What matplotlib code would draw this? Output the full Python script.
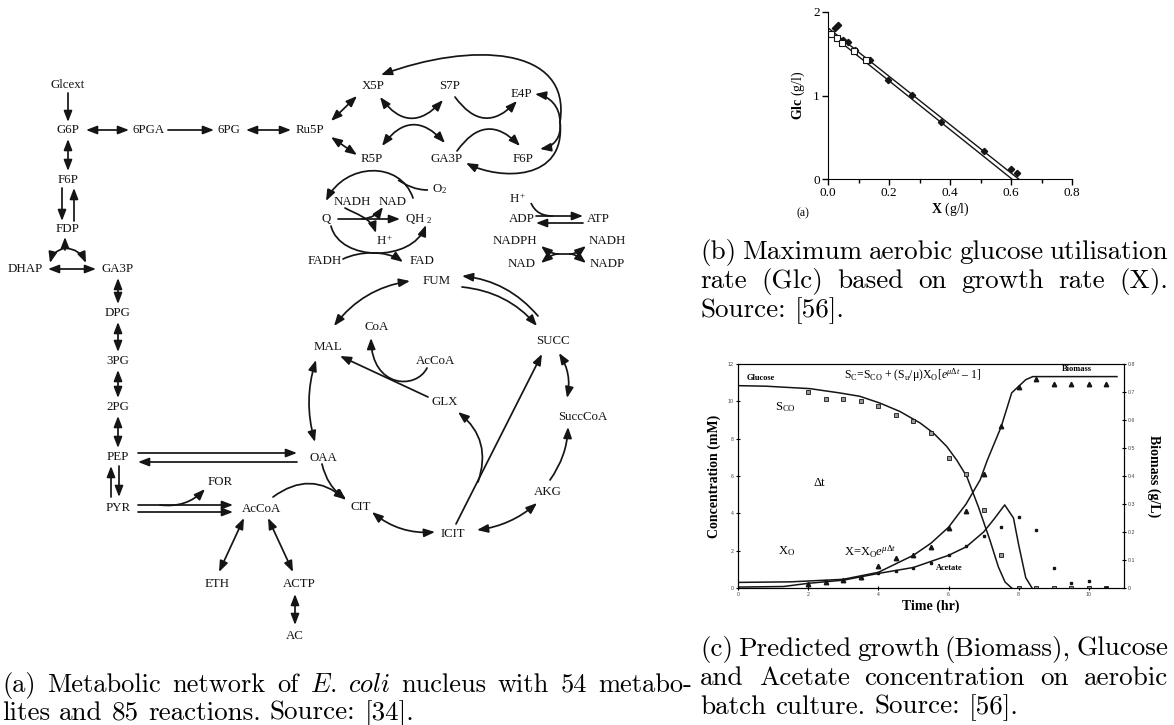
import numpy as np
import matplotlib.pyplot as plt
from matplotlib.patches import FancyArrowPatch, PathPatch
from matplotlib.path import Path

plt.rcParams['font.family'] = 'Liberation Serif'
plt.rcParams['mathtext.fontset'] = 'custom'
plt.rcParams['mathtext.rm'] = 'Liberation Serif'
plt.rcParams['mathtext.it'] = 'Liberation Serif:italic'
plt.rcParams['mathtext.bf'] = 'Liberation Serif:bold'

INK = '#151515'

# ---------- (a) metabolic network: metabolites and their label positions (px)
node_names = ["Glcext", "G6P", "6PGA", "6PG", "Ru5P", "F6P", "FDP", "DHAP", "GA3P",
              "DPG", "3PG", "2PG", "PEP", "PYR", "FOR", "AcCoA", "ETH", "ACTP", "AC",
              "OAA", "MAL", "CoA", "AcCoA", "GLX", "SUCC", "SuccCoA", "CIT", "ICIT",
              "AKG", "FUM", "X5P", "S7P", "E4P", "R5P", "GA3P", "F6P", r"O$_2$",
              "NADH", "NAD", "Q", r"QH $_2$", r"H$^+$", "FADH", "FAD", r"H$^+$",
              "ADP", "ATP", "NADPH", "NADH", "NAD", "NADP"]
node_x = [68, 68, 149, 229, 310, 68, 68, 25, 118, 118, 118, 118, 118, 118, 220, 262,
          217, 299, 295, 323, 328, 377, 435, 445, 553, 583, 361, 453, 548, 437, 373,
          450, 521, 372, 447, 523, 440, 352, 393, 326, 419, 385, 325, 422, 518, 522,
          598, 515, 607, 522, 607]
node_y = [85, 130, 130, 130, 130, 180, 229, 269, 269, 313, 361, 407, 457, 508, 482,
          509, 584, 584, 636, 458, 347, 327, 361, 402, 341, 417, 507, 534, 492, 281,
          86, 86, 94, 159, 159, 159, 189, 202, 202, 219, 219, 241, 261, 261, 199, 219,
          219, 241, 241, 264, 264]

# straight / arc reactions: start, end, heads, bend
rx0 = [68, 86, 168, 246, 68, 62, 74, 65, 65, 65, 48, 118, 118, 118, 118, 138, 297,
       119, 111, 138, 138, 160, 244, 268, 295, 273, 322, 316, 410, 538, 462, 559, 550,
       477, 372, 456, 478, 428, 331, 331, 380, 382, 455, 457, 338, 536, 583]
ry0 = [93, 130, 130, 130, 139, 188, 221, 250, 248, 248, 269, 278, 322, 370, 416, 453,
       462, 466, 497, 505, 512, 505, 518, 518, 594, 497, 464, 360, 281, 316, 287, 353,
       480, 530, 512, 524, 482, 397, 121, 137, 97, 146, 97, 151, 219, 216, 223]
rx1 = [68, 129, 214, 291, 68, 62, 74, 65, 50, 86, 96, 118, 118, 118, 118, 297, 138,
       119, 111, 233, 233, 205, 219, 293, 295, 346, 346, 315, 334, 462, 537, 567, 568,
       537, 435, 542, 458, 340, 357, 357, 443, 445, 517, 520, 400, 583, 536]
ry1 = [122, 130, 130, 130, 171, 221, 188, 237, 263, 263, 269, 304, 352, 398, 448, 453,
       462, 497, 466, 505, 512, 489, 572, 572, 625, 500, 499, 442, 326, 276, 326, 398,
       427, 503, 532, 354, 412, 356, 96, 155, 100, 143, 101, 146, 219, 216, 223]
r_heads = ['->', '<->', '->', '<->', '<->', '->', '->', '->', '->', '->', '<->', '<->',
           '<->', '<->', '<->', '->', '->', '->', '->', '->', '->', '->', '<->', '<->',
           '<->', '->', '->', '<->', '<->', '->', '->', '<->', '->', '<->', '<->', '->',
           '->', '->', '<->', '<->', '<->', '<->', '->', '->', '->', '->', '->']
r_bend = [0, 0, 0, 0, 0, 0, 0, 0, 0.3, -0.3, 0, 0, 0, 0, 0, 0, 0, 0, 0, 0, 0, 0.25,
          0, 0, 0, -0.4, 0.2, 0.15, 0.2, 0.2, -0.2, -0.2, 0.15, 0.15, 0.2, 0, 0.35, 0,
          0, 0, 0.6, -0.6, 0.6, -0.6, 0, 0, 0]

# curved reactions as cubic Bezier (start, ctrl1, ctrl2, end), head at end
curve_pts = [
    [(560, 122), (572, 45), (470, 42), (381, 75)],    # loop -> X5P
    [(560, 122), (560, 106), (549, 96), (535, 94)],   # loop -> E4P
    [(560, 122), (562, 138), (553, 147), (540, 149)],  # loop -> F6P
    [(560, 122), (566, 182), (500, 180), (466, 163)],  # loop -> GA3P
    [(413, 198), (400, 160), (345, 163), (326, 201)],  # QH2 -> Q
    [(345, 208), (356, 214), (371, 218), (376, 233)],  # NADH -> H+
    [(362, 219), (372, 218), (378, 214), (383, 207)],  # -> NAD
    [(331, 226), (340, 262), (412, 262), (426, 225)],  # Q -> QH2
    [(343, 259), (360, 251), (386, 250), (403, 262)],  # FADH -> FAD
    [(427, 368), (416, 390), (372, 388), (371, 338)],  # AcCoA -> CoA
    [(558, 254), (552, 254), (546, 250), (541, 246)],  # -> NADPH
    [(558, 254), (552, 254), (546, 259), (541, 263)],  # -> NAD
    [(570, 254), (576, 254), (581, 250), (586, 246)],  # -> NADH
    [(570, 254), (576, 254), (581, 259), (586, 263)],  # -> NADP
]
plain_pts = [
    [(428, 190), (415, 190), (406, 185), (398, 180)],  # O2 feed
    [(531, 203), (535, 212), (542, 216), (553, 216)],  # H+ feed
    [(558, 254), (562, 254), (566, 254), (570, 254)],  # cross centre
]

# ---------- (b) Glc vs X
b_fill_x = [0.022, 0.033, 0.049, 0.066, 0.088, 0.137, 0.197, 0.274, 0.370, 0.510, 0.600, 0.621]
b_fill_y = [1.81, 1.84, 1.67, 1.64, 1.54, 1.43, 1.18, 1.01, 0.68, 0.33, 0.12, 0.07]
b_open_x = [0.011, 0.030, 0.047, 0.084, 0.124]
b_open_y = [1.74, 1.69, 1.63, 1.53, 1.42]
b_fit1_x = [0.0, 0.625]
b_fit1_y = [1.81, 0.0]
b_fit2_x = [0.0, 0.603]
b_fit2_y = [1.76, 0.0]

# ---------- (c) batch culture
t_data = [2.0, 2.5, 3.0, 3.5, 4.0, 4.5, 5.0, 5.5, 6.0, 6.5, 7.0, 7.5, 8.0, 8.5, 9.0, 9.5, 10.0, 10.5]
glc_data = [10.5, 10.1, 10.1, 10.0, 9.73, 9.28, 8.96, 8.3, 6.99, 6.11, 4.18, 1.79, 0, 0, 0, 0, 0, 0]
bio_data = [0.016, 0.022, 0.029, 0.04, 0.078, 0.107, 0.117, 0.147, 0.216, 0.276, 0.407, 0.577,
            0.718, 0.746, 0.727, 0.727, 0.727, 0.727]
ace_data = [0.23, 0.38, 0.45, 0.56, 0.81, 0.9, 1.09, 1.34, 1.76, 2.24, 2.78, 3.28, 3.78, 3.1,
            1.09, 0.27, 0.36, 0.0]
glc_t = [0, 0.81, 1.47, 2.05, 2.9, 3.47, 4.04, 4.61, 5.19, 5.57, 5.95, 6.23, 6.52, 6.85, 7.18, 7.42, 7.61, 7.8]
glc_fit = [10.84, 10.81, 10.74, 10.68, 10.45, 10.27, 9.91, 9.46, 8.84, 8.3, 7.58, 6.86, 5.97, 4.35, 2.56, 1.13, 0.32, 0]
bio_t = [0, 1.5, 2.0, 3.0, 4.0, 5.0, 5.5, 6.0, 6.5, 6.9, 7.1, 7.5, 7.8, 8.2, 8.4, 10.8]
bio_fit = [0.02, 0.022, 0.025, 0.031, 0.056, 0.117, 0.16, 0.217, 0.3, 0.386, 0.455, 0.576, 0.697, 0.744, 0.755, 0.755]
ace_t = [0, 1.3, 2.0, 3.0, 4.0, 5.0, 6.0, 6.5, 7.0, 7.3, 7.6, 7.85, 8.0, 8.2, 8.38]
ace_fit = [0.05, 0.08, 0.25, 0.42, 0.78, 1.1, 1.75, 2.2, 3.0, 3.7, 4.45, 3.75, 2.3, 0.55, 0]

fig = plt.figure(figsize=(11.74, 7.25), dpi=100)
net = fig.add_axes([0, 0, 1, 1])
net.set_xlim(0, 1174)
net.set_ylim(725, 0)
net.axis('off')

for name, x, y in zip(node_names, node_x, node_y):
    net.text(x, y, name, ha='center', va='center', fontsize=9.3, color=INK)

HEAD = ',head_length=0.65,head_width=0.25'
for x0, y0, x1, y1, h, rad in zip(rx0, ry0, rx1, ry1, r_heads, r_bend):
    style = '-|>' if h == '->' else '<|-|>'
    net.add_patch(FancyArrowPatch((x0, y0), (x1, y1), arrowstyle=style + HEAD,
                                  connectionstyle=f'arc3,rad={rad}', mutation_scale=10,
                                  lw=1.25, color=INK, shrinkA=0, shrinkB=0))

codes = [Path.MOVETO, Path.CURVE4, Path.CURVE4, Path.CURVE4]
for pts in curve_pts:
    net.add_patch(FancyArrowPatch(path=Path(pts, codes), arrowstyle='-|>' + HEAD,
                                  mutation_scale=10, lw=1.25, color=INK))
for pts in plain_pts:
    net.add_patch(PathPatch(Path(pts, codes), fill=False, lw=1.25, color=INK))

# ---------- captions (justified, Computer Modern)
renderer = fig.canvas.get_renderer()


def caption_line(text, x0, y, x1=None, italic=(), fs=19.5):
    words = text.split()
    objs = []
    for i, w in enumerate(words):
        if i in italic:
            t = net.text(x0, y, r'$\mathit{' + w + '}$', math_fontfamily='cm',
                         fontsize=fs, va='baseline')
        else:
            t = net.text(x0, y, w, family='cmr10', fontsize=fs, va='baseline')
        objs.append(t)
    widths = [t.get_window_extent(renderer).width for t in objs]
    if x1 is None:
        gap = 0.333 * fs * 100 / 72
    else:
        gap = (x1 - x0 - sum(widths)) / (len(words) - 1)
    x = x0
    for t, w in zip(objs, widths):
        t.set_x(x)
        x += w + gap


caption_line("(a) Metabolic network of E. coli nucleus with 54 metabo-", 2, 692, 692,
             italic=(4, 5), fs=19)
caption_line("lites and 85 reactions. Source: [34].", 2, 720)
caption_line("(b) Maximum aerobic glucose utilisation", 700, 259, 1168)
caption_line("rate (Glc) based on growth rate (X).", 700, 288, 1168)
caption_line("Source: [56].", 700, 317)
caption_line("(c) Predicted growth (Biomass), Glucose", 700, 656, 1168)
caption_line("and Acetate concentration on aerobic", 700, 685, 1168)
caption_line("batch culture. Source: [56].", 700, 714)

# ---------- (b)
axb = fig.add_axes([828 / 1174, 1 - 179 / 725, 244 / 1174, 167 / 725])
axb.plot(b_fit1_x, b_fit1_y, color=INK, lw=1.0)
axb.plot(b_fit2_x, b_fit2_y, color=INK, lw=1.0)
axb.plot(b_fill_x, b_fill_y, 'D', color=INK, ms=3.2)
axb.plot(b_open_x, b_open_y, 's', mfc='white', mec=INK, mew=0.8, ms=3.8)
axb.set_xlim(0, 0.8)
axb.set_ylim(0, 2)
axb.spines[['top', 'right']].set_visible(False)
axb.set_xticks([0.0, 0.2, 0.4, 0.6, 0.8])
axb.set_xticklabels(['0.0', '0.2', '0.4', '0.6', '0.8'])
axb.set_xticks([0.1, 0.3, 0.5, 0.7], minor=True)
axb.set_yticks([0, 1, 2])
axb.tick_params(direction='out', length=4, width=1, labelsize=9.5, pad=2)
axb.tick_params(which='minor', direction='out', length=3, width=1)
axb.set_xlabel(r'$\mathbf{X}$ (g/l)', fontsize=10, labelpad=1)
axb.set_ylabel(r'$\mathbf{Glc}$ (g/l)', fontsize=10, labelpad=4)
axb.patch.set_alpha(0)
fig.text(803 / 1174, 1 - 213 / 725, '(a)', fontsize=8.5, ha='center', va='center')

# ---------- (c)
axc = fig.add_axes([738 / 1174, 1 - 588 / 725, 386 / 1174, 224 / 725])
axc.plot(glc_t, glc_fit, color=INK, lw=1.1)
axc.plot(ace_t, ace_fit, color=INK, lw=1.1)
axc.plot(t_data, glc_data, 's', color=INK, ms=2.2, mfc='#999', mew=0.6)
axc.plot(t_data, ace_data, 's', color=INK, ms=1.8)
axc.set_xlim(0, 11)
axc.set_ylim(0, 12)
axc.set_xticks(range(0, 11, 2))
axc.set_yticks(range(0, 13, 2))
axc.tick_params(direction='inout', length=3, width=0.8, labelsize=3.8, pad=1.5,
                labelcolor='#444')
for lab in axc.get_xticklabels() + axc.get_yticklabels():
    lab.set_family('Liberation Sans')
axc.set_xlabel('Time (hr)', fontsize=10, fontweight='bold', labelpad=2)
axc.set_ylabel('Concentration (mM)', fontsize=10, fontweight='bold', labelpad=5)
axc.patch.set_alpha(0)

axc2 = axc.twinx()
axc2.plot(bio_t, bio_fit, color=INK, lw=1.1)
axc2.plot(t_data, bio_data, '^', color=INK, ms=3.2)
axc2.set_ylim(0, 0.8)
axc2.set_yticks(np.arange(0, 0.81, 0.1))
axc2.set_yticklabels(['0', '0.1', '0.2', '0.3', '0.4', '0.5', '0.6', '0.7', '0.8'])
axc2.tick_params(direction='inout', length=3, width=0.8, labelsize=3.8, pad=1.5,
                 labelcolor='#444')
for lab in axc2.get_yticklabels():
    lab.set_family('Liberation Sans')
axc2.set_ylabel('Biomass (g/L)', fontsize=10, fontweight='bold', rotation=270, labelpad=18)

axc.text(0.26, 11.25, 'Glucose', fontsize=6, fontweight='bold', va='center')
axc.text(3.02, 11.4, r'S$_{\rm C}$=S$_{\rm CO}$ + (S$_{\rm u}$/μ)X$_{\rm O}$[$e^{\mu\Delta t}$ – 1]',
         fontsize=8.5, va='center')
axc.text(9.23, 11.73, 'Biomass', fontsize=6, fontweight='bold', va='center')
axc.text(1.05, 9.7, r'S$_{\rm CO}$', fontsize=9, va='center')
axc.text(2.14, 5.62, 'Δt', fontsize=9, va='center')
axc.text(1.14, 1.98, r'X$_{\rm O}$', fontsize=9, va='center')
axc.text(3.02, 1.93, r'X=X$_{\rm O}$$e^{\mu\Delta t}$', fontsize=9, va='center')
axc.text(5.64, 1.07, 'Acetate', fontsize=6, fontweight='bold', va='center')

fig.savefig('out.png', dpi=100)
